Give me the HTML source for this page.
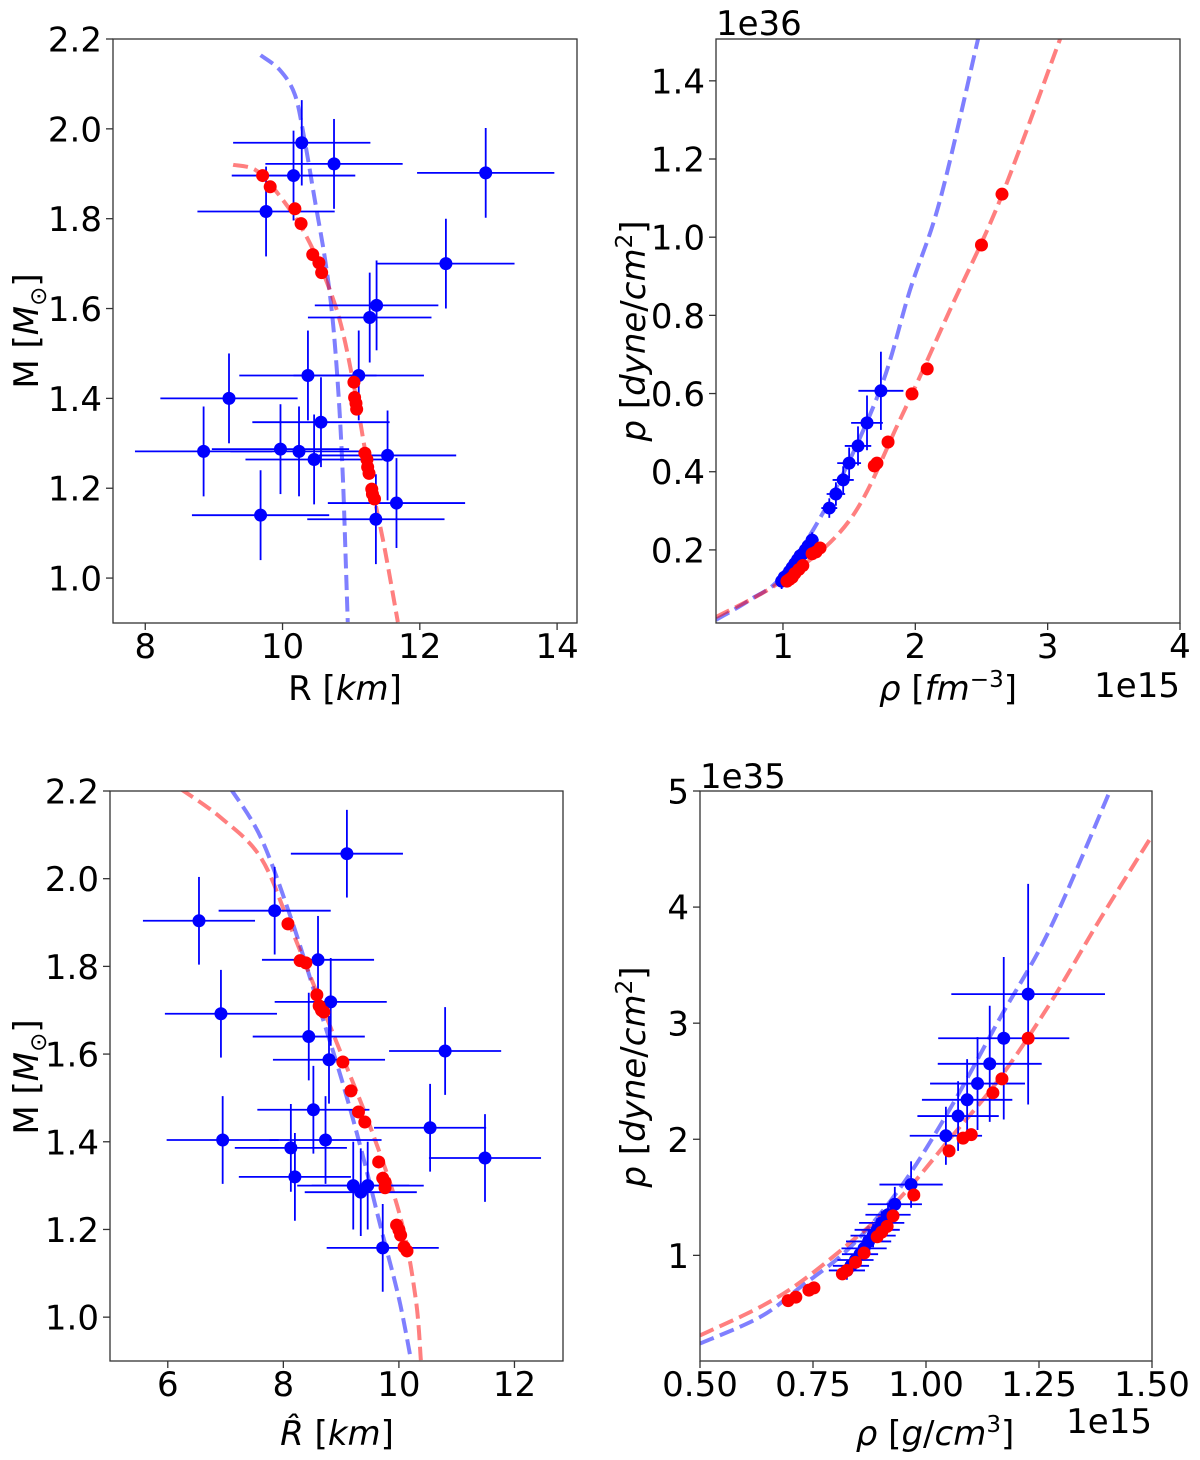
<!DOCTYPE html>
<html><head><meta charset="utf-8">
<style>
html,body{margin:0;padding:0;background:#fff;}
svg{display:block;font-family:"DejaVu Sans","Liberation Sans",sans-serif;}
</style></head>
<body>
<svg id="fig" width="1200" height="1460" viewBox="0 0 1200 1460" xmlns="http://www.w3.org/2000/svg"></svg>
<script>
// ---------- Panel A: M-R ----------
const aBlueR=[10.28,10.75,10.16,9.76,12.96,12.38,11.37,11.27,9.22,10.37,11.11,8.85,9.97,10.24,10.56,10.46,11.53,9.68,11.36,11.66];
const aBlueM=[1.969,1.922,1.896,1.816,1.902,1.70,1.607,1.58,1.40,1.451,1.451,1.282,1.287,1.282,1.347,1.264,1.273,1.14,1.131,1.167];
const aBlueRErr=[1.0,1.0,0.9,1.0,1.0,1.0,0.9,0.9,1.0,1.0,0.95,1.0,1.0,1.0,1.0,1.0,1.0,1.0,1.0,1.0];
const aBlueMErr=[0.095,0.1,0.1,0.1,0.1,0.1,0.1,0.1,0.1,0.1,0.1,0.1,0.1,0.1,0.1,0.1,0.1,0.1,0.1,0.1];
const aRedR=[9.71,9.82,10.18,10.27,10.44,10.53,10.57,11.04,11.05,11.07,11.08,11.2,11.23,11.24,11.26,11.3,11.31,11.34];
const aRedM=[1.896,1.871,1.822,1.789,1.72,1.702,1.68,1.436,1.402,1.389,1.376,1.278,1.264,1.247,1.233,1.198,1.187,1.176];
const aBlueCurveR=[9.68,9.96,10.18,10.32,10.47,10.62,10.73,10.82,10.88,10.92,10.95];
const aBlueCurveM=[2.164,2.131,2.076,1.976,1.842,1.709,1.576,1.398,1.22,1.042,0.902];
const aRedCurveR=[9.28,9.6,9.89,10.25,10.54,10.83,11.05,11.2,11.34,11.49,11.68];
const aRedCurveM=[1.92,1.909,1.864,1.787,1.698,1.576,1.42,1.287,1.176,1.064,0.902];
const aXTicks=[8,10,12,14];
const aYTicks=[1.0,1.2,1.4,1.6,1.8,2.0,2.2];
// ---------- Panel B: p-rho (fm) ----------
const bBlueRho=[1.74,1.635,1.567,1.50,1.455,1.40,1.35,0.99,1.01,1.03,1.05,1.07,1.09,1.11,1.13,1.15,1.17,1.19,1.22];
const bBlueP=[0.607,0.525,0.466,0.422,0.379,0.343,0.307,0.12,0.13,0.135,0.145,0.155,0.165,0.175,0.185,0.19,0.2,0.21,0.225];
const bBlueRhoErr=[0.17,0.12,0.1,0.09,0.08,0.07,0.06,0.04,0.04,0.04,0.04,0.04,0.04,0.04,0.04,0.04,0.05,0.05,0.05];
const bBluePErr=[0.1,0.07,0.05,0.04,0.035,0.03,0.025,0.02,0.02,0.02,0.02,0.02,0.02,0.02,0.02,0.02,0.02,0.02,0.02];
const bRedRho=[2.655,2.50,2.09,1.975,1.794,1.71,1.69,1.28,1.25,1.22,1.15,1.12,1.09,1.07,1.05,1.03];
const bRedP=[1.11,0.98,0.663,0.599,0.476,0.422,0.415,0.205,0.195,0.19,0.16,0.15,0.14,0.13,0.125,0.12];
const bBlueCurveRho=[0.494,0.75,1.0,1.355,1.733,1.96,2.187,2.474];
const bBlueCurveP=[0.021,0.072,0.136,0.328,0.609,0.865,1.095,1.507];
const bRedCurveRho=[0.494,1.0,1.506,1.884,2.262,2.64,3.094];
const bRedCurveP=[0.028,0.123,0.277,0.533,0.814,1.095,1.507];
const bXTicks=[1,2,3,4];
const bYTicks=[0.2,0.4,0.6,0.8,1.0,1.2,1.4];
// ---------- Panel C: M-Rhat ----------
const cBlueR=[9.10,6.54,7.85,8.60,6.92,8.82,8.44,8.79,10.80,8.52,10.54,6.95,8.73,8.13,8.20,11.49,9.21,9.46,9.34,9.72];
const cBlueM=[2.057,1.904,1.927,1.815,1.692,1.719,1.64,1.587,1.607,1.473,1.432,1.404,1.404,1.386,1.32,1.363,1.30,1.30,1.285,1.158];
const cBlueRErr=[0.97,0.97,0.97,0.97,0.97,0.97,0.97,0.97,0.97,0.97,0.97,0.97,0.97,0.97,0.97,0.97,0.97,0.97,0.97,0.97];
const cBlueMErr=[0.1,0.1,0.1,0.1,0.1,0.1,0.1,0.1,0.1,0.1,0.1,0.1,0.1,0.1,0.1,0.1,0.1,0.1,0.1,0.1];
const cRedR=[8.08,8.29,8.39,8.58,8.62,8.66,8.70,9.03,9.17,9.30,9.41,9.65,9.72,9.76,9.76,9.96,10.00,10.03,10.09,10.14];
const cRedM=[1.897,1.813,1.808,1.735,1.71,1.70,1.696,1.582,1.516,1.468,1.445,1.354,1.317,1.308,1.295,1.21,1.199,1.187,1.16,1.151];
const cBlueCurveR=[7.09,7.61,8.13,8.57,9.00,9.34,9.69,10.00,10.21];
const cBlueCurveM=[2.205,2.094,1.911,1.728,1.546,1.386,1.203,1.043,0.902];
const cRedCurveR=[6.22,6.92,7.61,8.13,8.82,9.51,10.03,10.29,10.38];
const cRedCurveM=[2.205,2.139,2.048,1.888,1.66,1.432,1.226,1.043,0.902];
const cXTicks=[6,8,10,12];
const cYTicks=[1.0,1.2,1.4,1.6,1.8,2.0,2.2];
// ---------- Panel D: p-rho (g/cm3) ----------
const dBlueRho=[1.226,1.172,1.141,1.114,1.091,1.071,1.044,0.967,0.931,0.916,0.902,0.892,0.883,0.873,0.863,0.854,0.844,0.834,0.825];
const dBlueP=[3.25,2.87,2.65,2.48,2.34,2.2,2.03,1.61,1.44,1.35,1.28,1.22,1.17,1.12,1.06,1.01,0.96,0.91,0.87];
const dBlueRhoErr=[0.17,0.145,0.115,0.105,0.1,0.09,0.08,0.07,0.06,0.05,0.05,0.05,0.05,0.05,0.05,0.04,0.04,0.04,0.04];
const dBluePErr=[0.95,0.7,0.5,0.4,0.35,0.3,0.25,0.2,0.15,0.1,0.1,0.1,0.1,0.1,0.1,0.08,0.08,0.08,0.08];
const dRedRho=[1.226,1.168,1.148,1.100,1.082,1.051,0.973,0.927,0.914,0.902,0.892,0.863,0.844,0.825,0.815,0.752,0.741,0.712,0.695];
const dRedP=[2.87,2.52,2.40,2.04,2.01,1.90,1.52,1.34,1.25,1.2,1.16,1.02,0.94,0.87,0.84,0.72,0.70,0.64,0.61];
const dBlueCurveRho=[0.5,0.633,0.722,0.832,0.943,1.054,1.163,1.274,1.407];
const dBlueCurveP=[0.24,0.469,0.726,1.069,1.582,2.268,3.039,3.81,5.0];
const dRedCurveRho=[0.5,0.633,0.722,0.832,0.943,1.054,1.163,1.274,1.385,1.5];
const dRedCurveP=[0.31,0.555,0.769,1.11,1.497,2.01,2.525,3.167,3.895,4.615];
const dXTicks=[0.5,0.75,1.0,1.25,1.5];
const dXTickLabels=["0.50","0.75","1.00","1.25","1.50"];
const dYTicks=[1,2,3,4,5];

const NS="http://www.w3.org/2000/svg";
const fig=document.getElementById('fig');
function mk(tag,attrs,parent){const e=document.createElementNS(NS,tag);for(const k in attrs)e.setAttribute(k,attrs[k]);(parent||fig).appendChild(e);return e;}
function smooth(pts){let d="M"+pts[0][0]+","+pts[0][1];for(let i=0;i<pts.length-1;i++){const p0=pts[Math.max(0,i-1)],p1=pts[i],p2=pts[i+1],p3=pts[Math.min(pts.length-1,i+2)];const c1x=p1[0]+(p2[0]-p0[0])/6,c1y=p1[1]+(p2[1]-p0[1])/6,c2x=p2[0]-(p3[0]-p1[0])/6,c2y=p2[1]-(p3[1]-p1[1])/6;d+=` C${c1x},${c1y} ${c2x},${c2y} ${p2[0]},${p2[1]}`;}return d;}

function panel(o){
  const L=o.box[0],T=o.box[1],R=o.box[2],B=o.box[3];
  const sx=v=>L+(v-o.xr[0])/(o.xr[1]-o.xr[0])*(R-L);
  const sy=v=>B-(v-o.yr[0])/(o.yr[1]-o.yr[0])*(B-T);
  const g=mk('g',{});
  
  
  const cid='clip-'+o.name;
  const cp=mk('clipPath',{id:cid},g);mk('rect',{x:L,y:T,width:R-L,height:B-T},cp);
  const plot=mk('g',{'clip-path':'url(#'+cid+')'},g);
  
  
  const bc=mk('path',{d:smooth(o.bcx.map((x,i)=>[sx(x),sy(o.bcy[i])])),fill:'none',stroke:'#0000ff','stroke-opacity':0.5,'stroke-width':4,'stroke-dasharray':'15,6.5'},plot);
  
  
  const rc=mk('path',{d:smooth(o.rcx.map((x,i)=>[sx(x),sy(o.rcy[i])])),fill:'none',stroke:'#ff0000','stroke-opacity':0.5,'stroke-width':4,'stroke-dasharray':'15,6.5'},plot);
  
  
  o.bx.forEach((x,i)=>{
    const cx=sx(x),cy=sy(o.by[i]);
    const eg=mk('g',{stroke:'#0000ff','stroke-width':1.8},plot);
    
    
    mk('line',{x1:sx(x-o.bxe[i]),x2:sx(x+o.bxe[i]),y1:cy,y2:cy},eg);
    mk('line',{x1:cx,x2:cx,y1:sy(o.by[i]-o.bye[i]),y2:sy(o.by[i]+o.bye[i])},eg);
    const c=mk('circle',{cx:cx,cy:cy,r:6.5,fill:'#0000ff'},plot);
    
    
  });
  o.rx.forEach((x,i)=>{
    const c=mk('circle',{cx:sx(x),cy:sy(o.ry[i]),r:6.5,fill:'#ff0000'},plot);
    
    
  });
  const fr=mk('rect',{x:L,y:T,width:R-L,height:B-T,fill:'none',stroke:'#333','stroke-width':1.3},g);
  
  
  o.xt.forEach((v,i)=>{
    const x=sx(v);
    mk('line',{x1:x,x2:x,y1:B,y2:B+7,stroke:'#333','stroke-width':1.3},g);
    const t=mk('text',{x:x,y:B+35,'font-size':34,'text-anchor':'middle'},g);
    t.textContent=o.xtl?o.xtl[i]:String(v);
    
    
  });
  o.yt.forEach(v=>{
    const y=sy(v);
    mk('line',{x1:L-7,x2:L,y1:y,y2:y,stroke:'#333','stroke-width':1.3},g);
    const t=mk('text',{x:L-11,y:y+12.5,'font-size':34,'text-anchor':'end'},g);
    t.textContent=o.yfix?v.toFixed(1):String(v);
    
    
  });
  return g;
}
panel({name:'mass-radius-panel',box:[113,39,577,623],xr:[7.53,14.29],yr:[0.9,2.2],bx:aBlueR,by:aBlueM,bxe:aBlueRErr,bye:aBlueMErr,rx:aRedR,ry:aRedM,bcx:aBlueCurveR,bcy:aBlueCurveM,rcx:aRedCurveR,rcy:aRedCurveM,xt:aXTicks,yt:aYTicks,yfix:true});
panel({name:'pressure-density-fm-panel',box:[716,39,1180,623],xr:[0.494,4.0],yr:[0.013,1.507],bx:bBlueRho,by:bBlueP,bxe:bBlueRhoErr,bye:bBluePErr,rx:bRedRho,ry:bRedP,bcx:bBlueCurveRho,bcy:bBlueCurveP,rcx:bRedCurveRho,rcy:bRedCurveP,xt:bXTicks,yt:bYTicks,yfix:true});
panel({name:'mass-radius-hat-panel',box:[110,791,563,1361],xr:[5.0,12.84],yr:[0.9,2.2],bx:cBlueR,by:cBlueM,bxe:cBlueRErr,bye:cBlueMErr,rx:cRedR,ry:cRedM,bcx:cBlueCurveR,bcy:cBlueCurveM,rcx:cRedCurveR,rcy:cRedCurveM,xt:cXTicks,yt:cYTicks,yfix:true});
panel({name:'pressure-density-g-panel',box:[700,791,1152,1361],xr:[0.5,1.5],yr:[0.09,5.0],bx:dBlueRho,by:dBlueP,bxe:dBlueRhoErr,bye:dBluePErr,rx:dRedRho,ry:dRedP,bcx:dBlueCurveRho,bcy:dBlueCurveP,rcx:dRedCurveRho,rcy:dRedCurveP,xt:dXTicks,xtl:dXTickLabels,yt:dYTicks,yfix:false});
</script>
<div style="position:absolute;left:0;top:0;width:1200px;height:1460px;pointer-events:none;">
<svg width="1200" height="1460" style="position:absolute;left:0;top:0;font-family:'DejaVu Sans','Liberation Sans',sans-serif;font-size:34px;">
  <text x="345" y="700" text-anchor="middle">R [<tspan font-style="italic">km</tspan>]</text>
  <text transform="translate(38,331) rotate(-90)" text-anchor="middle">M [<tspan font-style="italic">M</tspan><tspan font-size="23" dy="8">⊙</tspan><tspan dy="-8">]</tspan></text>
  <text x="948" y="700" text-anchor="middle"><tspan font-style="italic">ρ</tspan> [<tspan font-style="italic">fm</tspan><tspan font-size="23" dy="-13">−3</tspan><tspan dy="13">]</tspan></text>
  <text transform="translate(645,331) rotate(-90)" text-anchor="middle"><tspan font-style="italic">p</tspan> [<tspan font-style="italic">dyne</tspan>/<tspan font-style="italic">cm</tspan><tspan font-size="23" dy="-13">2</tspan><tspan dy="13">]</tspan></text>
  <text x="716" y="35">1e36</text>
  <text x="1180" y="697" text-anchor="end">1e15</text>
  <text x="337" y="1445" text-anchor="middle"><tspan font-style="italic">R̂</tspan> [<tspan font-style="italic">km</tspan>]</text>
  <text transform="translate(38,1077) rotate(-90)" text-anchor="middle">M [<tspan font-style="italic">M</tspan><tspan font-size="23" dy="8">⊙</tspan><tspan dy="-8">]</tspan></text>
  <text x="935" y="1445" text-anchor="middle"><tspan font-style="italic">ρ</tspan> [<tspan font-style="italic">g</tspan>/<tspan font-style="italic">cm</tspan><tspan font-size="23" dy="-13">3</tspan><tspan dy="13">]</tspan></text>
  <text transform="translate(645,1077) rotate(-90)" text-anchor="middle"><tspan font-style="italic">p</tspan> [<tspan font-style="italic">dyne</tspan>/<tspan font-style="italic">cm</tspan><tspan font-size="23" dy="-13">2</tspan><tspan dy="13">]</tspan></text>
  <text x="700" y="788">1e35</text>
  <text x="1152" y="1433" text-anchor="end">1e15</text>
</svg>
</div>
</body></html>
